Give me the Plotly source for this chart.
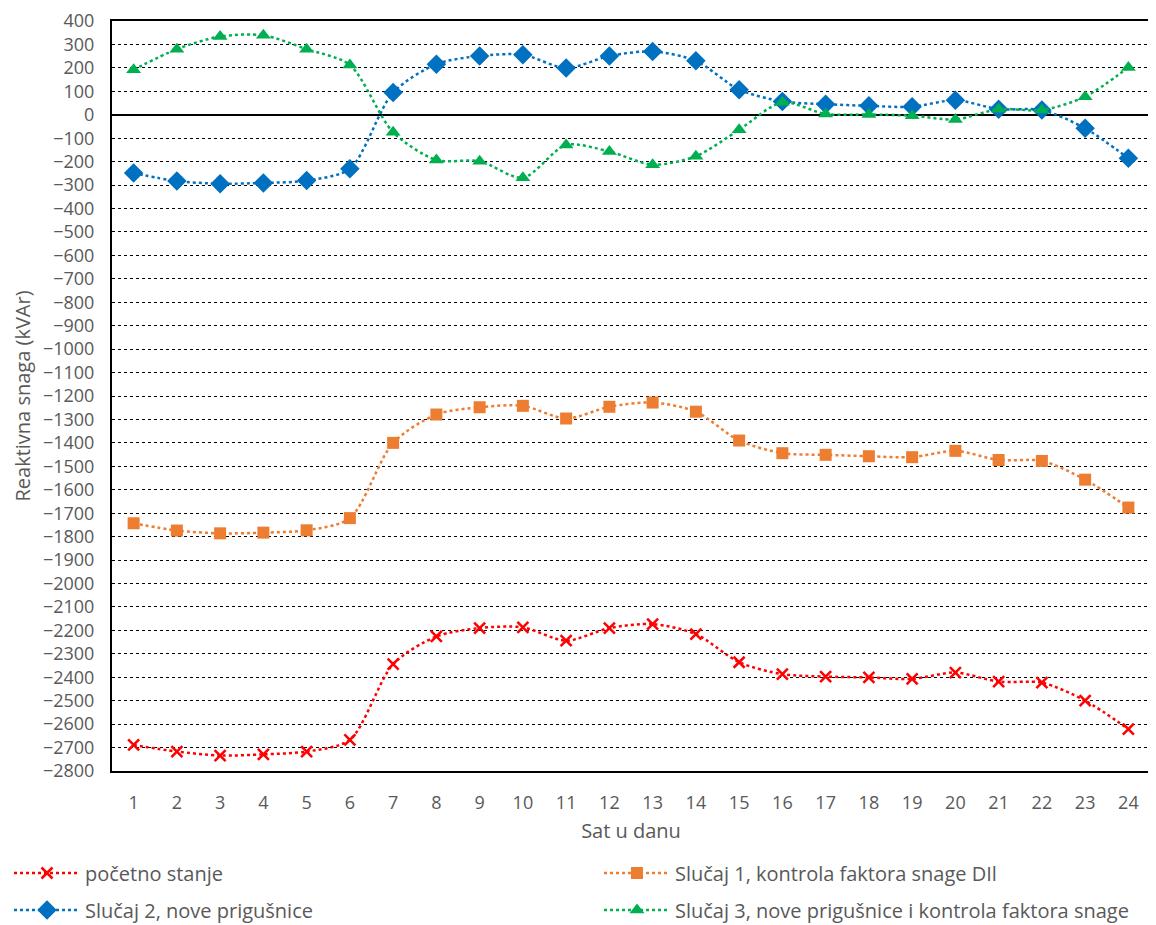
import plotly.graph_objects as go

hours = list(range(1, 25))
pocetno = [-2689, -2717, -2734, -2729, -2717, -2667, -2344, -2226, -2190, -2187, -2244, -2190,
           -2173, -2216, -2336, -2387, -2397, -2401, -2407, -2380, -2419, -2423, -2500, -2621]
slucaj1 = [-1743, -1774, -1786, -1783, -1773, -1721, -1400, -1279, -1248, -1242, -1296, -1246,
           -1228, -1267, -1390, -1444, -1451, -1457, -1461, -1434, -1473, -1477, -1557, -1676]
slucaj2 = [-249, -283, -294, -291, -281, -230, 95, 216, 251, 256, 199, 251,
           270, 230, 107, 57, 45, 38, 34, 62, 24, 20, -58, -186]
slucaj3 = [192, 280, 334, 339, 280, 212, -75, -193, -198, -269, -129, -157,
           -213, -177, -64, 53, 3, 1, -4, -20, 24, 20, 77, 202]

names = ["početno stanje", "Slučaj 1, kontrola faktora snage DIl",
         "Slučaj 2, nove prigušnice", "Slučaj 3, nove prigušnice i kontrola faktora snage"]
colors = ["#FF0000", "#ED7D31", "#0070C0", "#00B050"]
symbols = ["x-thin", "square", "diamond", "triangle-up"]
sizes = [11, 12, 15, 13]
legend_ids = ["legend", "legend2", "legend3", "legend4"]
series = [pocetno, slucaj1, slucaj2, slucaj3]

FONT = "Open Sans"
GRAY = "#595959"
OFF = 8                      # default page body margin
W, H = 1156 - OFF, 925 - OFF

fig = go.Figure()
for name, ys, c, s, sz, lg in zip(names, series, colors, symbols, sizes, legend_ids):
    marker = dict(color=c, size=sz, symbol=s)
    if s == "x-thin":
        marker["line"] = dict(color=c, width=2.5)
    fig.add_trace(go.Scatter(
        x=hours, y=ys, name=name, mode="lines+markers",
        line=dict(color=c, width=2.5, dash="dot", shape="spline", smoothing=0.8),
        marker=marker, legend=lg,
    ))

# legend positions in page pixels -> figure container fractions
leg_pos = {"legend": (9, 873), "legend2": (599, 873), "legend3": (9, 910), "legend4": (599, 910)}
leg_layout = {}
for lid, (px, py) in leg_pos.items():
    leg_layout[lid] = dict(
        orientation="h", x=(px - OFF) / W, xref="container", y=1 - (py - OFF) / H, yref="container",
        xanchor="left", yanchor="middle", bgcolor="rgba(0,0,0,0)",
        font=dict(family=FONT, size=20, color=GRAY), itemwidth=66,
    )

fig.update_layout(
    width=W, height=H,
    margin=dict(l=112 - OFF, r=6, t=21 - OFF, b=154, autoexpand=False),
    paper_bgcolor="white", plot_bgcolor="white",
    font=dict(family=FONT, size=18, color=GRAY),
    showlegend=True,
    **leg_layout,
)

fig.update_xaxes(
    range=[0.5, 24.5], tickmode="array", tickvals=hours, ticktext=[str(h) for h in hours],
    showgrid=False, showline=True, linecolor="black", linewidth=2, mirror=True,
    ticks="", ticklabelstandoff=14, tickfont=dict(family=FONT, size=18, color=GRAY),
    title=dict(text="Sat u danu", font=dict(family=FONT, size=20, color=GRAY), standoff=11),
    zeroline=False,
)
fig.update_yaxes(
    range=[-2800, 400], dtick=100, tick0=0,
    showgrid=True, gridcolor="black", gridwidth=1, griddash="dot",
    showline=True, linecolor="black", linewidth=2, mirror=True,
    zeroline=True, zerolinecolor="black", zerolinewidth=2,
    ticks="", ticklabelstandoff=12, tickfont=dict(family=FONT, size=18, color=GRAY),
    title=dict(text="Reaktivna snaga (kVAr)", font=dict(family=FONT, size=20, color=GRAY), standoff=7),
)

fig.write_html("out.html")
